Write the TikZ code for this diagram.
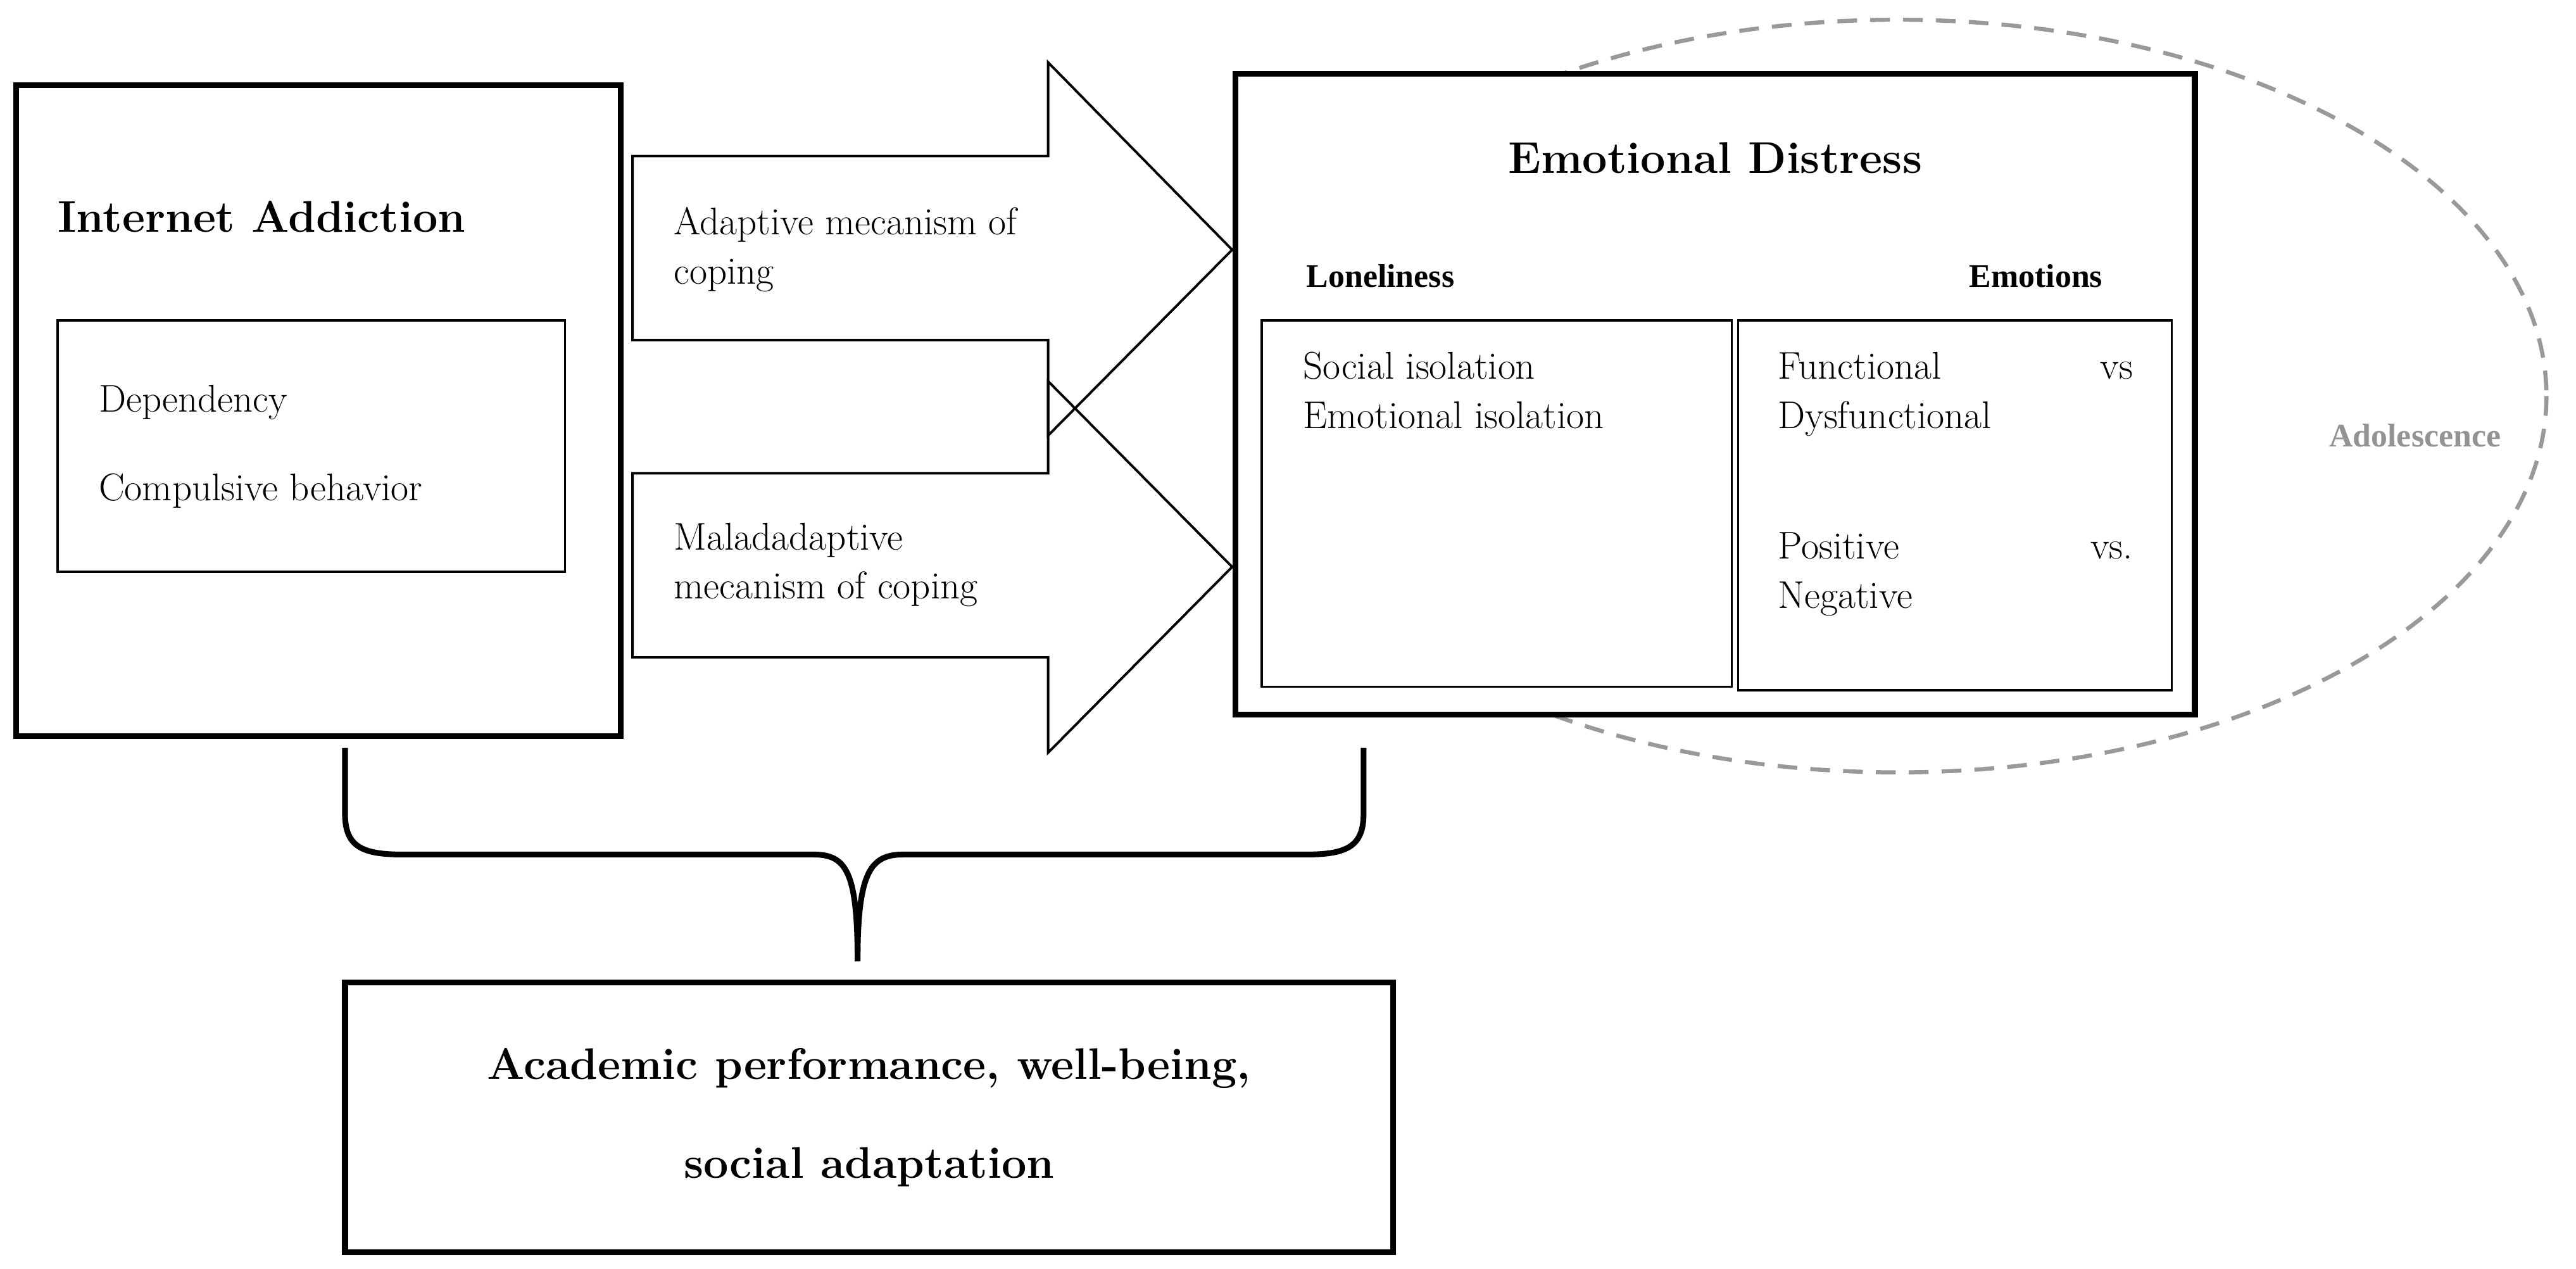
\documentclass[tikz,border=0pt]{standalone}
\usepackage{fontspec}
\newfontfamily\tms{Liberation Serif}
\begin{document}
\begin{tikzpicture}[x=1pt,y=-1pt,
  thick box/.style={draw,line width=3.5pt,fill=white},
  thin box/.style={draw,line width=1.3pt,fill=white},
  arr/.style={draw,line width=1.5pt},
  txt/.style={font=\fontsize{23.5}{30}\selectfont,anchor=north west,inner sep=0,align=left},
  ttl/.style={font=\fontsize{27}{38}\selectfont\bfseries,inner sep=0},
  hdr/.style={font=\tms\fontsize{20}{24}\selectfont\bfseries,inner sep=0}]
\useasboundingbox (0,0) rectangle (1568,772);
% ellipse
\draw[gray!80,line width=2.5pt,dash pattern=on 12pt off 8pt] (1155,241) ellipse [x radius=395,y radius=229];
\node[hdr,text=gray!85] (ado) at (1470,265) {Adolescence};
% left box
\path[thick box] (10,52) rectangle (378,448);
\node[ttl,anchor=west] (ia) at (35,132) {Internet Addiction};
\path[thin box] (35,195) rectangle (344,348);
\node[txt] (dep) at (60,234) {Dependency};
\node[txt] (comp) at (60,288) {Compulsive behavior};
% arrows
\draw[arr] (385,95) -- (638,95) -- (638,38) -- (750,152) -- (638,265) -- (638,207) -- (385,207) -- cycle;
\draw[arr] (385,288) -- (638,288) -- (638,232) -- (750,345) -- (638,458) -- (638,400) -- (385,400) -- cycle;
\node[txt] (a1) at (410,126) {Adaptive mecanism of\\coping};
\node[txt] (a2) at (410,318) {Maladadaptive\\mecanism of coping};
% right box
\path[thick box] (752,45) rectangle (1336,435);
\node[ttl] (ed) at (1044,96) {Emotional Distress};
\node[hdr,anchor=west] (lon) at (795,168) {Loneliness};
\node[hdr,anchor=east] (emo) at (1280,168) {Emotions};
\path[thin box] (768,195) rectangle (1054,418);
\path[thin box] (1058,195) rectangle (1322,420);
\node[txt] (soc) at (793,214) {Social isolation\\Emotional isolation};
\node[txt,text width=216pt] (fun) at (1082,214) {Functional\hfill vs\\Dysfunctional};
\node[txt,text width=216pt] (pos) at (1082,324) {Positive\hfill vs.\\Negative};
% brace
\draw[line width=3.5pt,line join=round] (210,455) -- (210,495) .. controls (210,515) and (220,520) .. (245,520) -- (495,520) .. controls (515,520) and (522,530) .. (522,585);
\draw[line width=3.5pt,line join=round] (830,455) -- (830,495) .. controls (830,515) and (820,520) .. (795,520) -- (550,520) .. controls (530,520) and (522,530) .. (522,585);
% bottom box
\path[thick box] (210,598) rectangle (848,762);
\node[ttl,align=center,font=\fontsize{27}{60}\selectfont\bfseries] (acad) at (529,680) {Academic performance, well-being,\\social adaptation};
\end{tikzpicture}
\end{document}
